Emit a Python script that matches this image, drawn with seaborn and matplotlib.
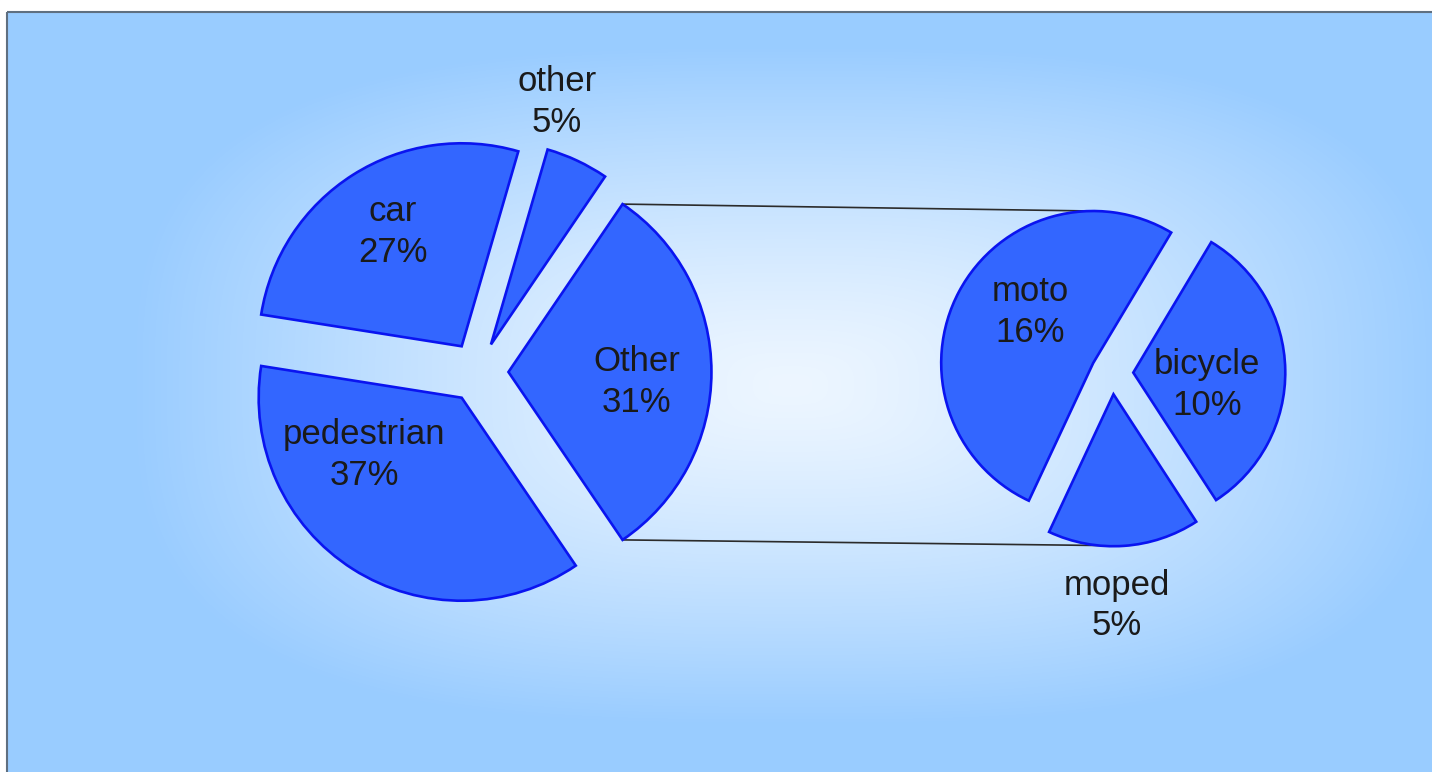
import numpy as np
import matplotlib
matplotlib.use("Agg")
import matplotlib.pyplot as plt
import seaborn as sns
from matplotlib.colors import to_rgb

sns.set_theme(style="white")
plt.rcParams['font.family'] = ['Liberation Sans', 'DejaVu Sans']

# ---- data ----
main_labels = ["Other", "other", "car", "pedestrian"]
main_values = [31, 5, 27, 37]
sub_labels = ["bicycle", "moto", "moped"]
sub_values = [10, 16, 5]

# label offsets (relative to pie centre, in radii)
main_label_pos = [(0.78, -0.05), (0.39, 1.33), (-0.42, 0.69), (-0.56, -0.41)]
sub_label_pos = [(0.625, -0.08), (-0.54, 0.40), (0.03, -1.53)]

W, H = 1432, 772
fig = plt.figure(figsize=(W / 100, H / 100), dpi=100)
ax = fig.add_axes([0, 0, 1, 1])

# background radial gradient
yy, xx = np.mgrid[0:H, 0:W]
cx, cy = 790, 385
d = ((np.abs(xx - cx) / 660) ** 3 + (np.abs(yy - cy) / 340) ** 3) ** (1 / 3)
t = np.clip(d, 0, 1) ** 1.3
c0 = np.array(to_rgb("#EDF6FF"))
c1 = np.array(to_rgb("#99CCFF"))
img = c0[None, None, :] * (1 - t[..., None]) + c1[None, None, :] * t[..., None]
ax.imshow(img, extent=[0, W, 0, H], origin="upper", zorder=0, aspect="auto")

fill = "#3366FF"
edge = "#0A14F0"

# main pie
C1 = (478, 400)
R1 = 203
ex1 = 0.15
start1 = -main_values[0] / sum(main_values) * 360 / 2
wedges1, _ = ax.pie(main_values, center=C1, radius=R1, startangle=start1,
                    counterclock=True, explode=[ex1 * R1] * len(main_values),
                    colors=[fill] * len(main_values), frame=True,
                    wedgeprops=dict(edgecolor=edge, linewidth=1.9, zorder=3))

# sub pie
C2 = (1112, 399)
R2 = 152
ex2 = 0.14
tot2 = sum(sub_values)
start2 = -57.0
wedges2, _ = ax.pie(sub_values, center=C2, radius=R2, startangle=start2,
                    counterclock=True, explode=[ex2 * R2] * len(sub_values),
                    colors=[fill] * len(sub_values), frame=True,
                    wedgeprops=dict(edgecolor=edge, linewidth=1.9, zorder=3))

# connector lines
half = main_values[0] / sum(main_values) * 180
apex = (C1[0] + ex1 * R1, C1[1])
tip_top = (apex[0] + R1 * np.cos(np.radians(half)), apex[1] + R1 * np.sin(np.radians(half)))
tip_bot = (apex[0] + R1 * np.cos(np.radians(-half)), apex[1] + R1 * np.sin(np.radians(-half)))

angs = np.cumsum([0] + sub_values) / tot2 * 360 + start2
moto_mid = np.radians((angs[1] + angs[2]) / 2)
moto_apex = (C2[0] + ex2 * R2 * np.cos(moto_mid), C2[1] + ex2 * R2 * np.sin(moto_mid))
right_top = (moto_apex[0], moto_apex[1] + R2)
moped_mid = np.radians((angs[2] + angs[3]) / 2)
moped_apex = (C2[0] + ex2 * R2 * np.cos(moped_mid), C2[1] + ex2 * R2 * np.sin(moped_mid))
right_bot = (moped_apex[0] - 15, moped_apex[1] - np.sqrt(R2 ** 2 - 15 ** 2))

ax.plot([tip_top[0], right_top[0]], [tip_top[1], right_top[1]], color="#2b2b2b", lw=1.2, zorder=2)
ax.plot([tip_bot[0], right_bot[0]], [tip_bot[1], right_bot[1]], color="#2b2b2b", lw=1.2, zorder=2)

# labels
for lab, v, (fx, fy) in zip(main_labels, main_values, main_label_pos):
    ax.text(C1[0] + fx * R1, C1[1] + fy * R1, f"{lab}\n{v}%", ha="center", va="center",
            fontsize=25, color="#1a1a1a", linespacing=1.3, zorder=5)
for lab, v, (fx, fy) in zip(sub_labels, sub_values, sub_label_pos):
    ax.text(C2[0] + fx * R2, C2[1] + fy * R2, f"{lab}\n{v}%", ha="center", va="center",
            fontsize=25, color="#1a1a1a", linespacing=1.3, zorder=5)

# frame lines (top & left)
ax.plot([7, W], [H - 12, H - 12], color="#5f6f80", lw=1.5, zorder=6, solid_capstyle="butt")
ax.plot([7, 7], [0, H - 12], color="#5f6f80", lw=1.5, zorder=6, solid_capstyle="butt")
ax.add_patch(plt.Rectangle((0, H - 11), W, 11, color="white", zorder=5.5))
ax.add_patch(plt.Rectangle((0, 0), 6.3, H, color="white", zorder=5.5))

ax.set_xlim(0, W)
ax.set_ylim(0, H)
ax.set_aspect("auto")
ax.axis("off")

fig.savefig("out.png", dpi=100)
